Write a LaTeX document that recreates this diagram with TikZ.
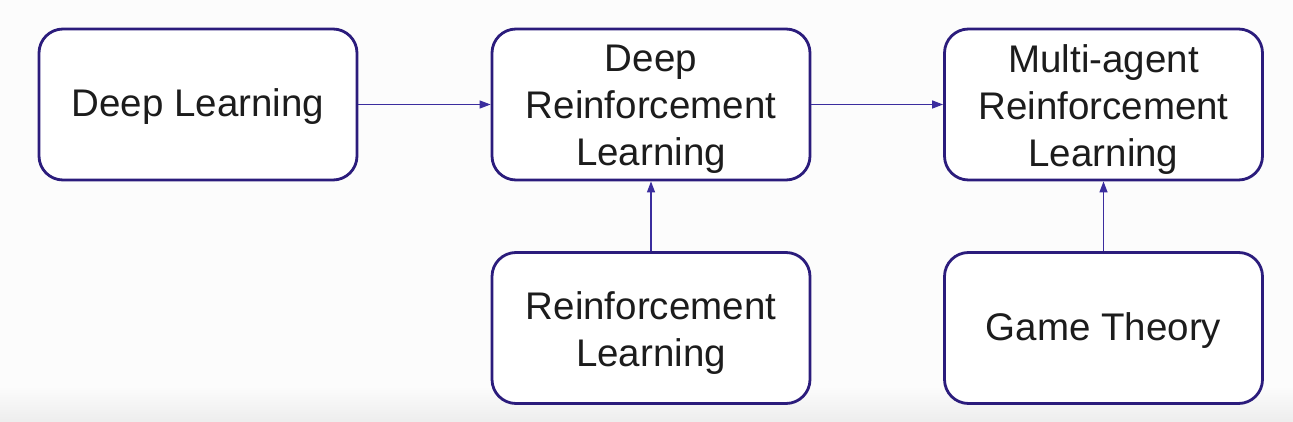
\documentclass[tikz,border=0pt]{standalone}
\usepackage{fontspec}
\setmainfont{Liberation Sans}
\usetikzlibrary{arrows.meta}
\definecolor{boxline}{HTML}{2B1C7C}
\definecolor{arrline}{HTML}{3B2D9E}
\definecolor{txt}{HTML}{1C1C1C}
\begin{document}
\begin{tikzpicture}[x=1pt,y=-1pt,
  box/.style={draw=boxline, line width=2.8pt, rounded corners=24pt, fill=white,
    minimum width=318pt, minimum height=151pt, inner sep=0pt},
  lbl/.style={text=txt, font=\fontsize{38.5}{47}\selectfont, align=center, inner sep=0pt},
  conn/.style={draw=arrline, line width=1.3pt, -{Triangle[length=11pt,width=8pt]}}]
\useasboundingbox (0,0) rectangle (1293,422);
\fill[white!99!black] (0,0) rectangle (1293,422);
\shade[top color=white!99!black, bottom color=white!93!black] (0,385) rectangle (1293,422);
\node[box] (dl) at (198,104.5) {};
\node[box] (drl) at (651,104.5) {};
\node[box] (marl) at (1103.5,104.5) {};
\node[box] (rl) at (651,328) {};
\node[box] (gt) at (1103.5,328) {};
\node[lbl] (tdl) at (dl.center) [yshift=-2.5pt] {Deep Learning};
\node[lbl] (tdrl) at (drl.center) [yshift=-5pt] {Deep\\Reinforcement\\Learning};
\node[lbl] (tmarl) at (marl.center) [yshift=-5pt] {Multi-agent\\Reinforcement\\Learning};
\node[lbl] (trl) at (rl.center) [yshift=-5pt] {Reinforcement\\Learning};
\node[lbl] (tgt) at (gt.center) [yshift=-3pt] {Game Theory};
\draw[conn] (dl) -- (drl);
\draw[conn] (drl) -- (marl);
\draw[conn] (rl) -- (drl);
\draw[conn] (gt) -- (marl);
\end{tikzpicture}
\end{document}
